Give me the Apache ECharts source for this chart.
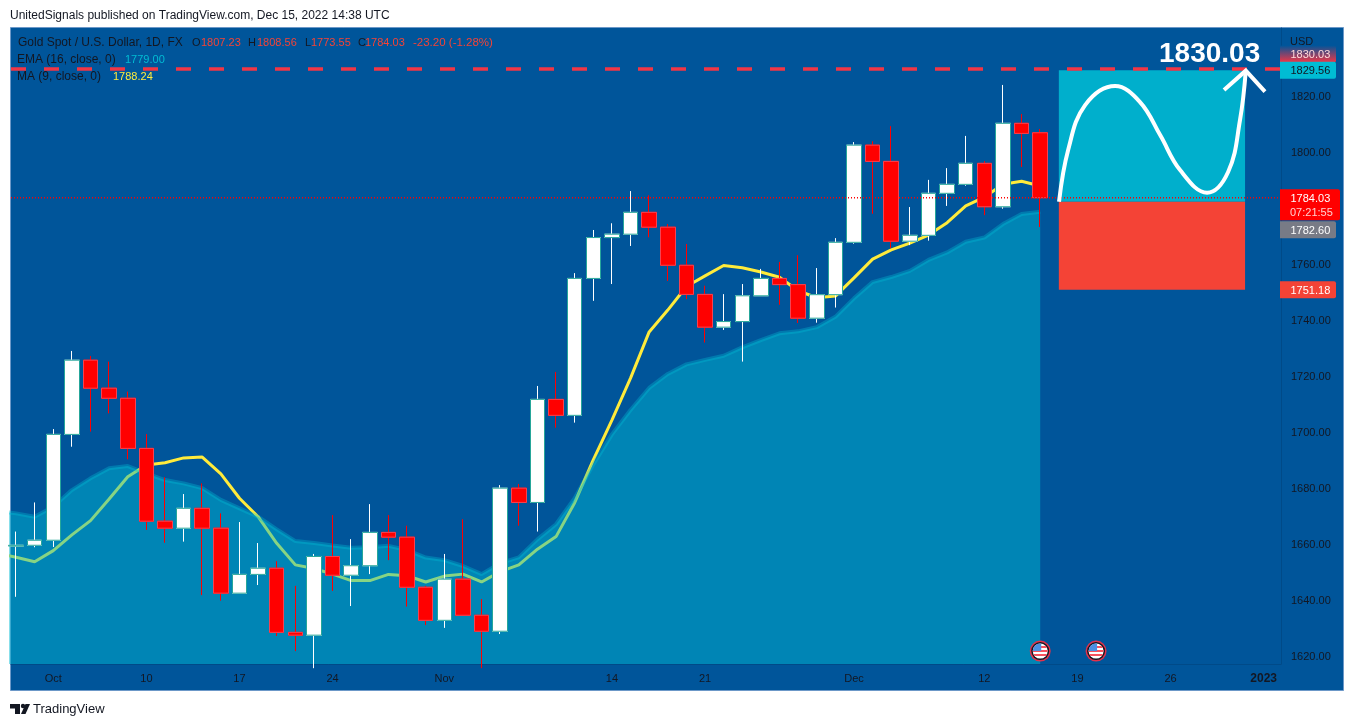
<!DOCTYPE html>
<html>
<head>
<meta charset="utf-8">
<title>Gold Spot / U.S. Dollar</title>
<script src="https://cdn.jsdelivr.net/npm/echarts@6/dist/echarts.min.js"></script>
<style>
  html, body { margin: 0; padding: 0; background: #fff; }
  #main { width: 1354px; height: 727px; }
</style>
</head>
<body>
<div id="main"></div>
<script>
// candles, bar 0 is the cut off one on the left edge
const openValues = [1659.6, 1659.9, 1661.7, 1699.5, 1726, 1716, 1712.4, 1694.5, 1668.5, 1666, 1673.1, 1666, 1642.8, 1649.5, 1651.7, 1628.8, 1627.8, 1655.9, 1649.2, 1652.6, 1664.5, 1662.8, 1644.9, 1633.1, 1647.8, 1634.9, 1629.2, 1680.3, 1675.2, 1712, 1706.3, 1755.2, 1769.8, 1771, 1778.8, 1773.5, 1759.9, 1749.5, 1737.8, 1739.8, 1749, 1755.2, 1753, 1741, 1749.4, 1768.1, 1802.8, 1797, 1768.5, 1770.6, 1785.6, 1788.8, 1796.3, 1780.8, 1810.6, 1807.23];
const closeValues = [1659.9, 1661.7, 1699.5, 1726, 1716, 1712.4, 1694.5, 1668.5, 1666, 1673.1, 1666, 1642.8, 1649.5, 1651.7, 1628.8, 1627.8, 1655.9, 1649.2, 1652.6, 1664.5, 1662.8, 1644.9, 1633.1, 1647.8, 1634.9, 1629.2, 1680.3, 1675.2, 1712, 1706.3, 1755.2, 1769.8, 1771, 1778.8, 1773.5, 1759.9, 1749.5, 1737.8, 1739.8, 1749, 1755.2, 1753, 1741, 1749.4, 1768.1, 1802.8, 1797, 1768.5, 1770.6, 1785.6, 1788.8, 1796.3, 1780.8, 1810.6, 1807, 1784.03];
const lowValues = [1641.5, 1659.2, 1659.3, 1695.1, 1700.5, 1707, 1690.6, 1665.4, 1660.8, 1661.2, 1642.1, 1640.1, 1642.8, 1645.7, 1627.5, 1622.1, 1616, 1643.6, 1638.2, 1649.6, 1654.6, 1638, 1631.4, 1630.4, 1634.9, 1616, 1628.2, 1666.9, 1664.8, 1701.9, 1703.7, 1747.2, 1753.2, 1766.8, 1769.9, 1754.3, 1747.8, 1732.3, 1736.8, 1725.5, 1749, 1745.8, 1739.3, 1739.4, 1744.8, 1767.6, 1778.3, 1766, 1767.1, 1768.7, 1781.1, 1788.3, 1777.8, 1780.1, 1795, 1773.55];
const highValues = [1664.8, 1675.2, 1701.4, 1729.3, 1727.5, 1725.5, 1714.8, 1699.6, 1684.2, 1678.2, 1682, 1671.3, 1668.2, 1660.7, 1654.2, 1645.4, 1656.8, 1670.7, 1662.1, 1674.6, 1670.7, 1666.9, 1645.4, 1656.8, 1669.2, 1640.7, 1681.4, 1681.8, 1716.8, 1721.8, 1757.1, 1772.5, 1774.9, 1786.4, 1784.9, 1774.6, 1767.5, 1752.6, 1749.6, 1753.2, 1758.6, 1761.1, 1763.5, 1758.9, 1769.6, 1803.9, 1804.2, 1809.6, 1780.7, 1790.4, 1794.6, 1806.1, 1797.1, 1824.3, 1813.9, 1808.56];

// indicators, these start one bar earlier so the lines reach the left edge
const emaValues = [1672.2, 1671.3, 1670.1, 1673.7, 1679.6, 1683.8, 1687.4, 1688.2, 1685.6, 1683.2, 1682, 1680.3, 1676.1, 1673.1, 1670.1, 1665.6, 1661.4, 1660.7, 1659.8, 1659, 1659.2, 1659.7, 1658.2, 1655.5, 1654.6, 1652.5, 1649.6, 1653.5, 1655.6, 1662, 1667.4, 1676.7, 1688.8, 1699.5, 1708.2, 1716.1, 1721.1, 1724.5, 1726.1, 1727.6, 1730.6, 1733.2, 1735.6, 1736.3, 1737.8, 1741.5, 1748.1, 1753.9, 1755.7, 1757.9, 1761.8, 1764.5, 1768.3, 1769.8, 1774.6, 1778.2, 1779];
const maValues = [1657, 1655.6, 1654, 1658, 1663.6, 1668.7, 1676.4, 1684.4, 1688.6, 1689.4, 1691.1, 1691.4, 1685.4, 1676.7, 1670.1, 1660.6, 1652.9, 1651.6, 1649.6, 1647.3, 1647.3, 1649.5, 1649, 1646.8, 1648.9, 1649.6, 1646.8, 1650.5, 1652.9, 1658.5, 1663, 1675.1, 1690.4, 1704.6, 1719.6, 1736.1, 1743.9, 1752.3, 1756.1, 1759.8, 1759, 1757.5, 1755.6, 1750.8, 1748.3, 1748.9, 1755.4, 1762.1, 1765.4, 1767.8, 1770.7, 1775.1, 1781.1, 1784.2, 1788.8, 1789.9, 1788.24];

// axis ticks
const dateTickBars = [2, 7, 12, 17, 23, 32, 37, 45, 52, 57, 62, 67];
const dateTickLabels = ['Oct', '10', '17', '24', 'Nov', '14', '21', 'Dec', '12', '19', '26', '2023'];
const priceTicks = [1620, 1640, 1660, 1680, 1700, 1720, 1740, 1760, 1780, 1800, 1820];

// long position drawing
const positionBars = [56, 66];
const targetPrice = 1829.56;
const entryPrice = 1782.60;
const stopPrice = 1751.18;
const forecastBars = [56.01, 56.5, 57.41, 59.02, 60.36, 61.44, 62.51, 63.96, 65.09, 65.73, 66.04];
const forecastPrices = [1782.6, 1801.1, 1817.1, 1823.9, 1818.2, 1806.4, 1793.9, 1785.8, 1793.2, 1811.8, 1829.4];
const arrowBars = [64.87, 66.04, 67.07];
const arrowPrices = [1822.5, 1829.4, 1821.9];

// horizontal levels and price scale tags
const targetLine = 1830.03;
const lastPrice = 1784.03;
const tagPrices = [1830.03, 1829.56, 1784.03, 1782.60, 1751.18];
const flagBars = [55, 58];
const flagPrice = 1622.1;

// range of the pane
const barMin = -0.27;
const barMax = 67.93;
const priceMin = 1617.5;
const priceMax = 1844.64;

const FONT = '"Liberation Sans", Arial, sans-serif';
const TEXT_DARK = '#131722';
const PANE_BLUE = '#00559a';

const myChart = echarts.init(document.getElementById('main'));

function candleRows() {
    return openValues.map((o, i) => [i, o, closeValues[i], lowValues[i], highValues[i]]);
}

function bodyRows() {
    return openValues.map((o, i) => [i, o, closeValues[i], Math.min(o, closeValues[i]), Math.max(o, closeValues[i])]);
}

// coloured boxes on the price scale, shift moves a box off its price like tradingview does when they collide
const tagLook = [
    { w: 56, h: 17, shift: -15, text: '#ffd9d9', fill: { type: 'linear', x: 0, y: 0, x2: 0, y2: 1, colorStops: [{ offset: 0, color: PANE_BLUE }, { offset: 1, color: '#f23645' }] } },
    { w: 56, h: 17, shift: 0, text: TEXT_DARK, fill: '#00bcd4' },
    { w: 60, h: 31, shift: 0, text: '#fff', fill: '#ff0000', extra: '07:21:55' },
    { w: 56, h: 17, shift: 28, text: '#fff', fill: '#787b86' },
    { w: 56, h: 17, shift: 0, text: '#fff', fill: '#f44336' }
];

function renderTag(params, api) {
    const look = tagLook[params.dataIndex];
    const pos = api.coord([barMax, api.value(1)]);
    const y = pos[1] + look.shift;
    const children = [{
        type: 'rect',
        shape: { x: pos[0] - 1, y: y - 8.5, width: look.w, height: look.h, r: [0, 2, 2, 0] },
        style: { fill: look.fill }
    }, {
        type: 'text',
        style: { x: pos[0] + 9.5, y: y + 1, text: api.value(1).toFixed(2), fill: look.text, font: '11px ' + FONT, verticalAlign: 'middle' }
    }];
    if (look.extra) {
        children.push({
            type: 'text',
            style: { x: pos[0] + 9, y: y + 15.5, text: look.extra, fill: '#ffd0d0', font: '11px ' + FONT, verticalAlign: 'middle' }
        });
    }
    return { type: 'group', children };
}

// US economic event marker
function renderFlag(params, api) {
    const p = api.coord([api.value(0), api.value(1)]);
    const x = p[0], y = p[1];
    const stripes = [-5, -1, 3].map(d => ({
        type: 'rect',
        shape: { x: x - 8, y: y + d, width: 16, height: 2 },
        style: { fill: '#f7525f' }
    }));
    return {
        type: 'group',
        children: [
            { type: 'circle', shape: { cx: x, cy: y, r: 10.5 }, style: { fill: '#e0324c' } },
            { type: 'circle', shape: { cx: x, cy: y, r: 9 }, style: { fill: '#131722' } },
            {
                type: 'group',
                clipPath: { type: 'circle', shape: { cx: x, cy: y, r: 7.5 } },
                children: [
                    { type: 'rect', shape: { x: x - 8, y: y - 8, width: 16, height: 16 }, style: { fill: '#fff' } },
                    ...stripes,
                    { type: 'rect', shape: { x: x - 8, y: y - 8, width: 9, height: 8 }, style: { fill: '#4a90e2' } }
                ]
            }
        ]
    };
}

function textEl(x, y, text, fill, font) {
    return { type: 'text', z: 100, x, y, style: { text, fill, font: font || '11px ' + FONT, verticalAlign: 'middle' } };
}

const option = {
    animation: false,
    backgroundColor: '#fff',
    grid: { left: 11, right: 73, top: 28, bottom: 63 },
    xAxis: {
        type: 'value',
        min: barMin,
        max: barMax,
        splitLine: { show: false },
        axisTick: { show: false },
        axisLine: { show: true, onZero: false, lineStyle: { color: '#004a88' } },
        axisLabel: {
            customValues: dateTickBars,
            margin: 9,
            color: TEXT_DARK,
            fontFamily: FONT,
            fontSize: 11,
            formatter: v => {
                const label = dateTickLabels[dateTickBars.indexOf(v)];
                return label === '2023' ? '{year|' + label + '}' : label;
            },
            rich: { year: { fontWeight: 'bold', fontFamily: FONT, fontSize: 12, color: TEXT_DARK } }
        }
    },
    yAxis: {
        type: 'value',
        position: 'right',
        min: priceMin,
        max: priceMax,
        splitLine: { show: false },
        axisTick: { show: false },
        axisLine: { show: true, onZero: false, lineStyle: { color: '#004a88' } },
        axisLabel: {
            customValues: priceTicks,
            margin: 10,
            color: TEXT_DARK,
            fontFamily: FONT,
            fontSize: 11,
            padding: [4, 0, 0, 0],
            formatter: v => v.toFixed(2)
        }
    },
    series: [
        {
            // stays below the ema area so it turns green where they cross
            type: 'line',
            name: 'MA',
            z: 2,
            data: maValues.map((v, i) => [i - 1, v]),
            showSymbol: false,
            silent: true,
            lineStyle: { color: '#ffeb3b', width: 3 }
        },
        {
            type: 'line',
            name: 'EMA',
            z: 3,
            data: emaValues.map((v, i) => [i - 1, v]),
            showSymbol: false,
            silent: true,
            lineStyle: { color: 'rgba(0,188,212,0.35)', width: 4 },
            areaStyle: { color: 'rgba(0,188,212,0.47)', origin: 'start', opacity: 1 },
            markArea: {
                silent: true,
                itemStyle: { opacity: 1 },
                data: [
                    [{ coord: [positionBars[0], targetPrice], itemStyle: { color: '#00afcc' } }, { coord: [positionBars[1], entryPrice] }],
                    [{ coord: [positionBars[0], entryPrice], itemStyle: { color: '#f44336' } }, { coord: [positionBars[1], stopPrice] }]
                ]
            }
        },
        {
            // coloured wicks
            type: 'candlestick',
            z: 4,
            data: candleRows(),
            barWidth: 15,
            itemStyle: { color: '#fff', color0: '#ff0000', borderColor: '#fff', borderColor0: '#ff0000', borderWidth: 1 }
        },
        {
            // bodies again on top with their own outline
            type: 'candlestick',
            z: 5,
            data: bodyRows(),
            barWidth: 15,
            itemStyle: { color: '#fff', color0: '#ff0000', borderColor: '#26a69a', borderColor0: '#f44352', borderColorDoji: '#26a69a', borderWidth: 1 }
        },
        {
            type: 'line',
            name: 'target',
            z: 6,
            data: [[barMin, targetLine], [barMax, targetLine]],
            showSymbol: false,
            silent: true,
            lineStyle: { color: '#f23645', width: 3.5, type: [15, 18] }
        },
        {
            type: 'line',
            name: 'last',
            z: 6,
            data: [[barMin, lastPrice], [barMax, lastPrice]],
            showSymbol: false,
            silent: true,
            lineStyle: { color: '#ff0000', width: 1.5, type: [1, 2] }
        },
        {
            type: 'line',
            name: 'forecast',
            z: 7,
            data: forecastBars.map((b, i) => [b, forecastPrices[i]]),
            smooth: 0.4,
            showSymbol: false,
            silent: true,
            clip: false,
            lineStyle: { color: '#fff', width: 4 }
        },
        {
            type: 'line',
            name: 'arrow',
            z: 7,
            data: arrowBars.map((b, i) => [b, arrowPrices[i]]),
            showSymbol: false,
            silent: true,
            clip: false,
            lineStyle: { color: '#fff', width: 4, join: 'miter' }
        },
        {
            type: 'custom',
            name: 'flags',
            z: 8,
            silent: true,
            data: flagBars.map(b => [b, flagPrice]),
            renderItem: renderFlag
        },
        {
            type: 'custom',
            name: 'tags',
            z: 9,
            silent: true,
            clip: false,
            data: tagPrices.map(p => [barMax, p]),
            renderItem: renderTag
        }
    ],
    graphic: {
        elements: [
            // chart frame
            { type: 'rect', z: -10, shape: { x: 10.5, y: 27.5, width: 1333, height: 663 }, style: { fill: PANE_BLUE, stroke: '#6c98c8', lineWidth: 1 } },

            textEl(10, 16, 'UnitedSignals published on TradingView.com, Dec 15, 2022 14:38 UTC', TEXT_DARK, '12px ' + FONT),
            textEl(18, 43, 'Gold Spot / U.S. Dollar, 1D, FX', TEXT_DARK, '12px ' + FONT),
            textEl(192, 43, 'O', TEXT_DARK),
            textEl(201, 43, '1807.23', '#f44336'),
            textEl(248, 43, 'H', TEXT_DARK),
            textEl(257, 43, '1808.56', '#f44336'),
            textEl(305, 43, 'L', TEXT_DARK),
            textEl(311, 43, '1773.55', '#f44336'),
            textEl(358, 43, 'C', TEXT_DARK),
            textEl(365, 43, '1784.03', '#f44336'),
            textEl(413, 43, '-23.20 (-1.28%)', '#f44336', '11.5px ' + FONT),
            textEl(17, 60, 'EMA (16, close, 0)', TEXT_DARK, '12px ' + FONT),
            textEl(125, 60, '1779.00', '#00bcd4'),
            textEl(17, 77, 'MA (9, close, 0)', TEXT_DARK, '12px ' + FONT),
            textEl(113, 77, '1788.24', '#ffeb3b'),
            textEl(1290, 42, 'USD', TEXT_DARK),
            textEl(1159, 54, '1830.03', '#fff', 'bold 28px ' + FONT),

            // TradingView mark and name
            { type: 'polygon', z: 100, shape: { points: [[10, 704], [20, 704], [20, 714], [15, 714], [15, 708.5], [10, 708.5]] }, style: { fill: TEXT_DARK } },
            { type: 'circle', z: 100, shape: { cx: 23, cy: 706, r: 2.2 }, style: { fill: TEXT_DARK } },
            { type: 'polygon', z: 100, shape: { points: [[25.5, 704], [30, 704], [25.5, 714], [21, 714]] }, style: { fill: TEXT_DARK } },
            textEl(33, 709, 'TradingView', TEXT_DARK, '13px ' + FONT)
        ]
    }
};

myChart.setOption(option);
</script>
</body>
</html>
